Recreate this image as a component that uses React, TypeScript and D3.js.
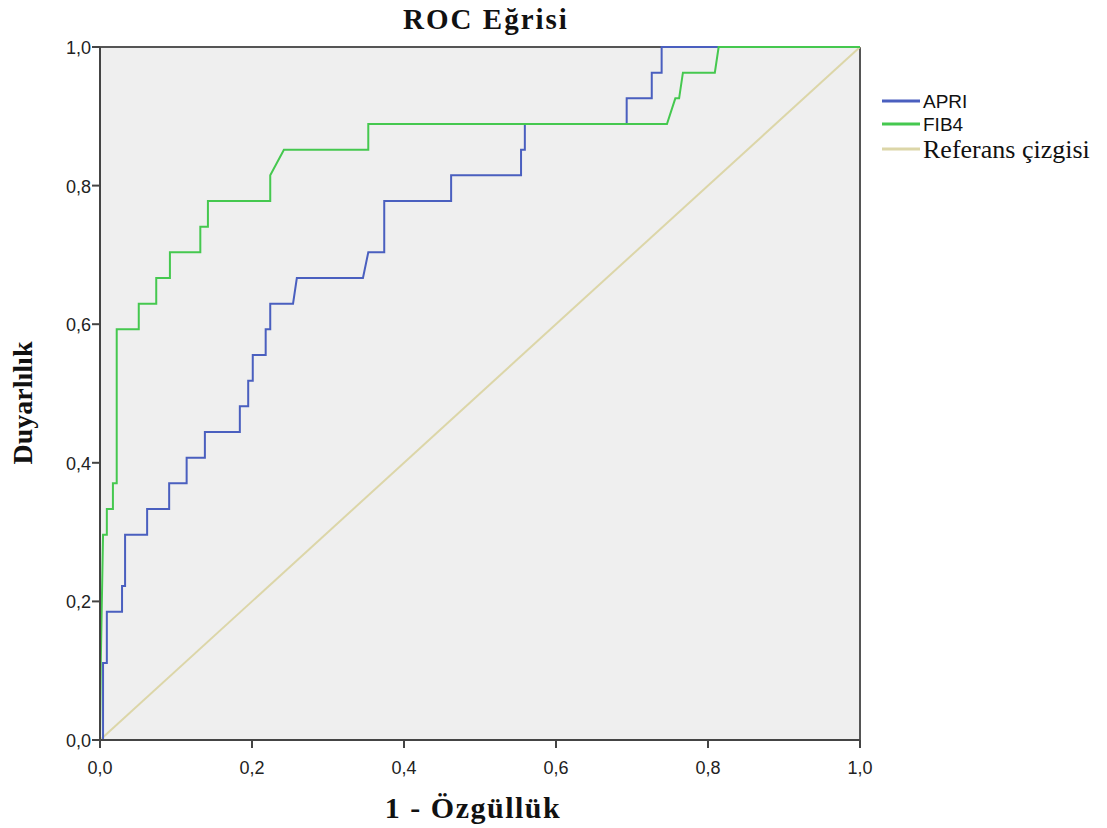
import React from "react";
import * as d3 from "d3";

const n = 27;
const apriFpr = [0, 0.004, 0.004, 0.009, 0.009, 0.029, 0.029, 0.033, 0.033, 0.062, 0.062, 0.091, 0.091, 0.114, 0.114, 0.138, 0.138, 0.184, 0.184, 0.195, 0.195, 0.201, 0.201, 0.218, 0.218, 0.224, 0.224, 0.254, 0.259, 0.346, 0.353, 0.374, 0.374, 0.462, 0.462, 0.554, 0.554, 0.559, 0.559, 0.693, 0.693, 0.726, 0.726, 0.739, 0.739, 1.0];
const apriTprK = [0, 0, 3, 3, 5, 5, 6, 6, 8, 8, 9, 9, 10, 10, 11, 11, 12, 12, 13, 13, 14, 14, 15, 15, 16, 16, 17, 17, 18, 18, 19, 19, 21, 21, 22, 22, 23, 23, 24, 24, 25, 25, 26, 26, 27, 27];

const fibFpr = [0, 0.001, 0.004, 0.009, 0.009, 0.017, 0.017, 0.022, 0.022, 0.051, 0.051, 0.074, 0.074, 0.092, 0.092, 0.132, 0.132, 0.142, 0.142, 0.224, 0.224, 0.242, 0.353, 0.353, 0.746, 0.757, 0.762, 0.767, 0.809, 0.814, 1.0];
const fibTprK = [0, 3, 8, 8, 9, 9, 10, 10, 16, 16, 17, 17, 18, 18, 19, 19, 20, 20, 21, 21, 22, 23, 23, 24, 24, 25, 25, 26, 26, 27, 27];

const ticks = [0, 0.2, 0.4, 0.6, 0.8, 1.0];
const tickLabels = ["0,0", "0,2", "0,4", "0,6", "0,8", "1,0"];

const legendItems = [
  { name: "APRI", color: "#4a5fbf", font: "Liberation Sans, Arial, sans-serif", size: 19, y: 101 },
  { name: "FIB4", color: "#45c84f", font: "Liberation Sans, Arial, sans-serif", size: 19, y: 124 },
  { name: "Referans çizgisi", color: "#dcd6a8", font: "Liberation Serif, Times New Roman, serif", size: 26, y: 149 },
];

export default function App() {
  const W = 1107, H = 828;
  const x = d3.scaleLinear().domain([0, 1]).range([100, 860]);
  const y = d3.scaleLinear().domain([0, 1]).range([740, 47]);
  const line = d3.line<[number, number]>().x((d) => x(d[0])).y((d) => y(d[1]));
  const apri = apriFpr.map((f, i) => [f, apriTprK[i] / n] as [number, number]);
  const fib = fibFpr.map((f, i) => [f, fibTprK[i] / n] as [number, number]);
  const ref: [number, number][] = [[0, 0], [1, 1]];
  const sans = "Liberation Sans, Arial, sans-serif";
  const serif = "Liberation Serif, Times New Roman, serif";
  return (
    <svg width={W} height={H} style={{ position: "absolute", left: 0, top: 0, background: "#fff" }}>
      <rect x={x(0)} y={y(1)} width={x(1) - x(0)} height={y(0) - y(1)} fill="#efefef" />
      <line x1={x(0)} x2={x(1)} y1={y(1)} y2={y(1)} stroke="#555" strokeWidth={2} />
      <line x1={x(1)} x2={x(1)} y1={y(1)} y2={y(0)} stroke="#555" strokeWidth={2} />
      <path d={line(ref) || ""} fill="none" stroke="#dcd6a8" strokeWidth={2} />
      <path d={line(apri) || ""} fill="none" stroke="#4a5fbf" strokeWidth={2} />
      <path d={line(fib) || ""} fill="none" stroke="#45c84f" strokeWidth={2} />
      <line x1={x(0)} x2={x(0)} y1={y(1)} y2={y(0)} stroke="#444" strokeWidth={2} />
      <line x1={x(0)} x2={x(1)} y1={y(0)} y2={y(0)} stroke="#444" strokeWidth={2} />
      {ticks.map((t, i) => (
        <g key={"y" + i}>
          <line x1={x(0) - 8} x2={x(0)} y1={y(t)} y2={y(t)} stroke="#444" strokeWidth={2} />
          <text x={x(0) - 9} y={y(t) + 7} textAnchor="end" fontFamily={sans} fontSize={18} fill="#222">{tickLabels[i]}</text>
        </g>
      ))}
      {ticks.map((t, i) => (
        <g key={"x" + i}>
          <line x1={x(t)} x2={x(t)} y1={y(0)} y2={y(0) + 8} stroke="#444" strokeWidth={2} />
          <text x={x(t)} y={y(0) + 34} textAnchor="middle" fontFamily={sans} fontSize={18} fill="#222">{tickLabels[i]}</text>
        </g>
      ))}
      <text x={486} y={29} textAnchor="middle" fontFamily={serif} fontWeight="bold" fontSize={29} letterSpacing={2} fill="#111">ROC Eğrisi</text>
      <text x={473} y={818} textAnchor="middle" fontFamily={serif} fontWeight="bold" fontSize={30} letterSpacing={1.5} fill="#111">1 - Özgüllük</text>
      <text transform="translate(32,403) rotate(-90)" textAnchor="middle" fontFamily={serif} fontWeight="bold" fontSize={28} fill="#111">Duyarlılık</text>
      {legendItems.map((it) => (
        <g key={it.name}>
          <line x1={882} x2={920} y1={it.y} y2={it.y} stroke={it.color} strokeWidth={3} />
          <text x={923} y={it.y + (it.size > 20 ? 9 : 7)} fontFamily={it.font} fontSize={it.size} fill="#111">{it.name}</text>
        </g>
      ))}
    </svg>
  );
}
